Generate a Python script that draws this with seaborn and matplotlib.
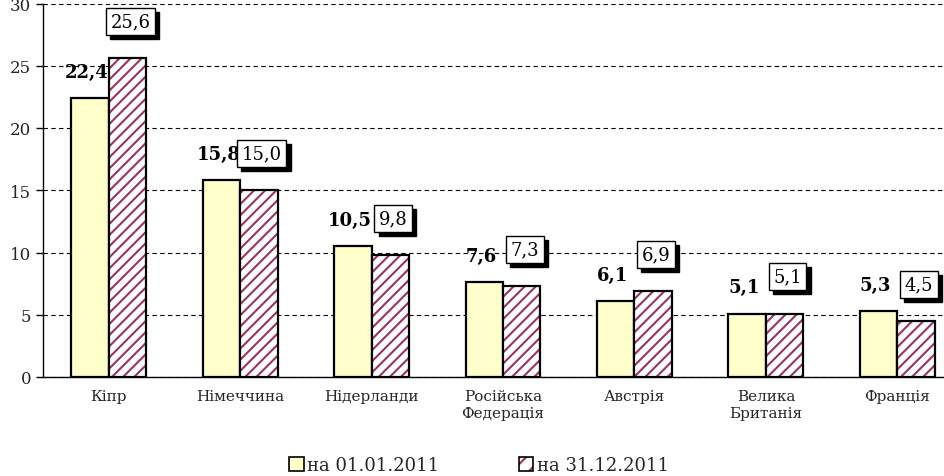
import numpy as np
import pandas as pd
import matplotlib
matplotlib.use("Agg")
import matplotlib.pyplot as plt
import seaborn as sns

# data
countries = ["Кіпр", "Німеччина", "Нідерланди", "Російська\nФедерація",
             "Австрія", "Велика\nБританія", "Франція"]
start_2011 = [22.4, 15.8, 10.5, 7.6, 6.1, 5.1, 5.3]
end_2011 = [25.6, 15.0, 9.8, 7.3, 6.9, 5.1, 4.5]
series_names = ["на 01.01.2011", "на 31.12.2011"]
y_ticks = [0, 5, 10, 15, 20, 25, 30]

YELLOW = "#FFFFCC"
PLUM = "#993366"

sns.set_style("white")
plt.rcParams["font.family"] = ["DejaVu Serif"]
plt.rcParams["hatch.linewidth"] = 1.5

df = pd.DataFrame({
    "country": countries * 2,
    "value": start_2011 + end_2011,
    "series": [series_names[0]] * len(countries) + [series_names[1]] * len(countries),
})

fig = plt.figure(figsize=(9.45, 4.77), dpi=100)
ax = fig.add_axes([43 / 945, 99 / 477, 920 / 945, 373.5 / 477])

sns.barplot(data=df, x="country", y="value", hue="series",
            palette=[YELLOW, "white"], saturation=1, width=0.57, gap=0,
            edgecolor="black", linewidth=1.6, ax=ax, legend=False)

# hatch in plum, then a black outline on top
for bar in ax.containers[1]:
    bar.set_hatch("///")
    bar.set_edgecolor(PLUM)
    bar.set_linewidth(0)
    ax.add_patch(plt.Rectangle(bar.get_xy(), bar.get_width(), bar.get_height(),
                               fill=False, ec="black", lw=1.6, zorder=bar.get_zorder() + 0.1))

ax.set_ylim(0, 30)
ax.set_xlim(-0.5, 6.5)
ax.set_yticks(y_ticks)
ax.set_yticklabels([str(t) for t in y_ticks], fontsize=12)
ax.set_xlabel("")
ax.set_ylabel("")
ax.tick_params(axis="x", which="major", length=0, labelsize=11, pad=9)
ax.set_xticks(np.arange(len(countries) + 1) - 0.5, minor=True)
ax.tick_params(axis="x", which="minor", length=5, width=1, direction="out", color="black")
ax.tick_params(axis="y", length=5, width=1, direction="out", color="black", left=True)

ax.grid(axis="y", color="black", linestyle=(0, (4, 3)), linewidth=0.8)
ax.set_axisbelow(True)
for side in ["top", "right"]:
    ax.spines[side].set_visible(False)
for side in ["left", "bottom"]:
    ax.spines[side].set_color("black")
    ax.spines[side].set_linewidth(1)

# value labels
for i, v in enumerate(start_2011):
    ax.text(i - 0.167, v + 2.1, f"{v:.1f}".replace(".", ","), ha="center", va="center",
            fontsize=13, fontweight="bold", color="black")

for i, v in enumerate(end_2011):
    txt = f"{v:.1f}".replace(".", ",")
    ax.annotate(txt, xy=(i + 0.165, v + 2.95), xytext=(3, -3), textcoords="offset points",
                ha="center", va="center", fontsize=13, color="black",
                bbox=dict(boxstyle="square,pad=0.25", fc="black", ec="black", lw=1))
    ax.text(i + 0.165, v + 2.95, txt, ha="center", va="center", fontsize=13, color="black",
            bbox=dict(boxstyle="square,pad=0.25", fc="white", ec="black", lw=1))

handles = [plt.Rectangle((0, 0), 1, 1, fc=YELLOW, ec="black", lw=1.2),
           (plt.Rectangle((0, 0), 1, 1, fc="white", ec=PLUM, lw=0, hatch="//"),
            plt.Rectangle((0, 0), 1, 1, fill=False, ec="black", lw=1.2))]
fig.legend(handles, series_names, loc="lower center", bbox_to_anchor=(0.507, -0.03),
           ncol=2, frameon=False, fontsize=13, handlelength=0.8, handleheight=0.8,
           handletextpad=0.2, columnspacing=4.4)

plt.savefig("out.png", dpi=100)
